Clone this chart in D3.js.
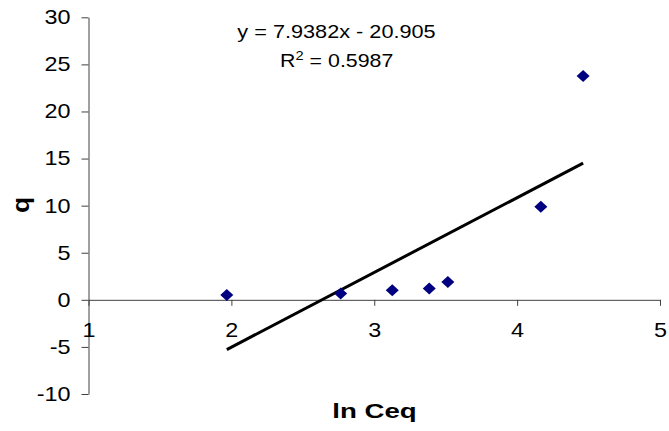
<!DOCTYPE html>
<html>
<head>
<meta charset="utf-8">
<script src="https://cdn.jsdelivr.net/npm/d3@7"></script>
<style>
  html, body { margin: 0; padding: 0; background: #fff; }
  svg { display: block; font-family: "Liberation Sans", Arial, sans-serif; }
</style>
</head>
<body>
<svg id="chart" width="669" height="431"></svg>
<script>
// Adsorption data: ln Ceq against q
const lnCeq = [1.968, 2.765, 3.126, 3.385, 3.515, 4.166, 4.462];
const qValues = [0.51, 0.68, 1.02, 1.21, 1.89, 9.87, 23.78];

// Linear trend line coefficients (as printed on the chart)
const slope = 7.9382;
const intercept = -20.905;
const rSquared = 0.5987;

// Axis ticks
const xTicks = [1, 2, 3, 4, 5];
const yTicks = [-10, -5, 0, 5, 10, 15, 20, 25, 30];

const svg = d3.select("#chart");

const x = d3.scaleLinear().domain([1, 5]).range([88.5, 660]);
const y = d3.scaleLinear().domain([-10, 30]).range([394, 17.3]);

const axisColor = "#404040";
const labelScale = 1.17;
const plainNumber = d => String(d);   // hyphen-minus for negatives

// Y axis
const gy = svg.append("g")
  .attr("transform", `translate(${x(1)},0)`)
  .call(d3.axisLeft(y).tickValues(yTicks).tickFormat(plainNumber)
    .tickSize(7).tickSizeOuter(0).tickPadding(11));
gy.select(".domain").attr("stroke", axisColor);
gy.selectAll(".tick line").attr("stroke", axisColor);
gy.selectAll(".tick text")
  .attr("font-size", 20)
  .attr("fill", "#000")
  .attr("font-family", "Liberation Sans, Arial, sans-serif")
  .each(function () {
    const t = d3.select(this);
    const tx = +t.attr("x");
    t.attr("x", 0).attr("transform", `translate(${tx},0) scale(${labelScale},1)`);
  });

// X axis crossing at q = 0
const gx = svg.append("g")
  .attr("transform", `translate(0,${y(0)})`)
  .call(d3.axisBottom(x).tickValues(xTicks).tickFormat(plainNumber)
    .tickSize(6).tickSizeOuter(0).tickPadding(17));
gx.select(".domain").attr("stroke", axisColor);
gx.selectAll(".tick line").attr("stroke", axisColor);
gx.selectAll(".tick text")
  .attr("font-size", 20)
  .attr("fill", "#000")
  .attr("font-family", "Liberation Sans, Arial, sans-serif")
  .each(function () {
    const t = d3.select(this);
    const ty = +t.attr("y");
    t.attr("y", 0).attr("transform", `translate(0,${ty}) scale(${labelScale},1)`);
  });

// Trend line across the data range
const x0 = d3.min(lnCeq), x1 = d3.max(lnCeq);
svg.append("line")
  .attr("x1", x(x0)).attr("y1", y(slope * x0 + intercept))
  .attr("x2", x(x1)).attr("y2", y(slope * x1 + intercept))
  .attr("stroke", "#000")
  .attr("stroke-width", 3);

// Diamond markers
const diamond = "M0,-6L6.5,0L0,6L-6.5,0Z";
svg.append("g").selectAll("path")
  .data(lnCeq.map((v, i) => [v, qValues[i]]))
  .join("path")
  .attr("d", diamond)
  .attr("transform", d => `translate(${x(d[0])},${y(d[1])})`)
  .attr("fill", "#000080");

// Trend line equation and R²
const fmtSigned = v => (v < 0 ? "- " + Math.abs(v) : "+ " + v);
svg.append("text")
  .attr("transform", "translate(336.5,37.7) scale(1.24,1)")
  .attr("text-anchor", "middle")
  .attr("font-size", 17.5)
  .text(`y = ${slope}x ${fmtSigned(intercept)}`);

const r2 = svg.append("text")
  .attr("transform", "translate(336.7,66.7) scale(1.22,1)")
  .attr("text-anchor", "middle")
  .attr("font-size", 17.5);
r2.append("tspan").text("R");
r2.append("tspan").attr("font-size", 12).attr("dy", -7).text("2");
r2.append("tspan").attr("dy", 7).text(` = ${rSquared}`);

// Axis titles
svg.append("text")
  .attr("transform", "translate(374.5,418.3) scale(1.38,1)")
  .attr("text-anchor", "middle")
  .attr("font-size", 20)
  .attr("font-weight", "bold")
  .text("ln Ceq");

svg.append("text")
  .attr("transform", "translate(29,205) rotate(-90) scale(1.1,1)")
  .attr("text-anchor", "middle")
  .attr("font-size", 24)
  .attr("font-weight", "bold")
  .text("q");
</script>
</body>
</html>
